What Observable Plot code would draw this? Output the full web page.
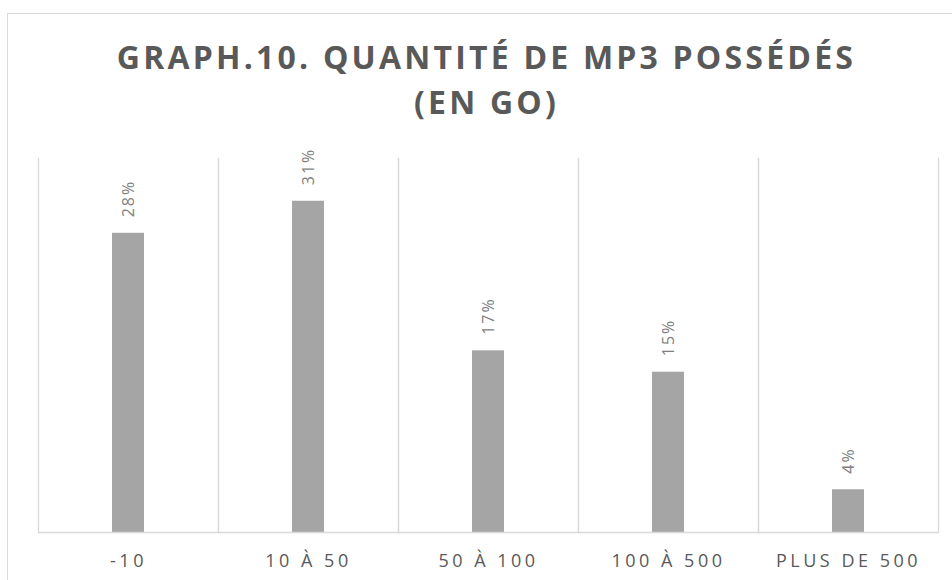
<!DOCTYPE html>
<html>
<head>
<meta charset="utf-8">
<script src="https://cdn.jsdelivr.net/npm/d3@7"></script>
<script src="https://cdn.jsdelivr.net/npm/@observablehq/plot@0.6"></script>
<style>
  html, body { margin: 0; padding: 0; background: #ffffff; overflow: hidden; }
  #page { position: relative; width: 952px; height: 580px; overflow: hidden; }
  #border { position: absolute; left: 7px; top: 13px; width: 2000px; height: 2000px;
            border-left: 1px solid #d9d9d9; border-top: 1px solid #d9d9d9; pointer-events: none; z-index: 2; }
  #title { position: relative; height: 130px; box-sizing: border-box; padding-top: 34px; width: 970px;
           padding-left: 3px; text-align: center; font-family: "Open Sans", sans-serif; font-weight: 700;
           font-size: 32px; line-height: 45px; letter-spacing: 3.2px; color: #595959; }
  #chart svg { display: block; background: transparent; }
  #chart g[aria-label^="fx-axis"] text { letter-spacing: 3.5px; }
  #chart g[aria-label="text"] text { letter-spacing: 2px; }
</style>
</head>
<body>
<div id="page">
  <div id="title">GRAPH.10. QUANTITÉ DE MP3 POSSÉDÉS<br>(EN GO)</div>
  <div id="chart"></div>
  <div id="border"></div>
</div>
<script>
const categories = ["-10", "10 À 50", "50 À 100", "100 À 500", "PLUS DE 500"];
const values = [28, 31, 17, 15, 4];
const yDomain = [0, 35];

const data = categories.map((c, i) => ({cat: c, value: values[i]}));
const slot = () => "slot";

const chart = Plot.plot({
  width: 952,
  height: 450,
  marginLeft: 37,
  marginRight: 14,
  marginTop: 28,
  marginBottom: 48,
  style: {fontFamily: "Open Sans, sans-serif", fontSize: "18px", color: "#595959", background: "transparent"},
  fx: {domain: categories, padding: 0, axis: "bottom", label: null, tickSize: 0, tickPadding: 22},
  x: {axis: null, padding: 0.698},
  y: {domain: yDomain, axis: null},
  marks: [
    Plot.frame({anchor: "left", stroke: "#d9d9d9", strokeWidth: 1.3}),
    Plot.frame({anchor: "right", stroke: "#d9d9d9", strokeWidth: 1.3}),
    Plot.barY(data, {fx: "cat", x: slot, y: "value", fill: "#a5a5a5"}),
    Plot.ruleY([0], {stroke: "#d9d9d9", strokeWidth: 1.3}),
    Plot.text(data, {fx: "cat", x: slot, y: "value", text: d => d.value + "%", rotate: -90,
      textAnchor: "start", dy: -16, fontSize: 16, fill: "#7f7f7f"})
  ]
});
document.getElementById("chart").appendChild(chart);
</script>
</body>
</html>
